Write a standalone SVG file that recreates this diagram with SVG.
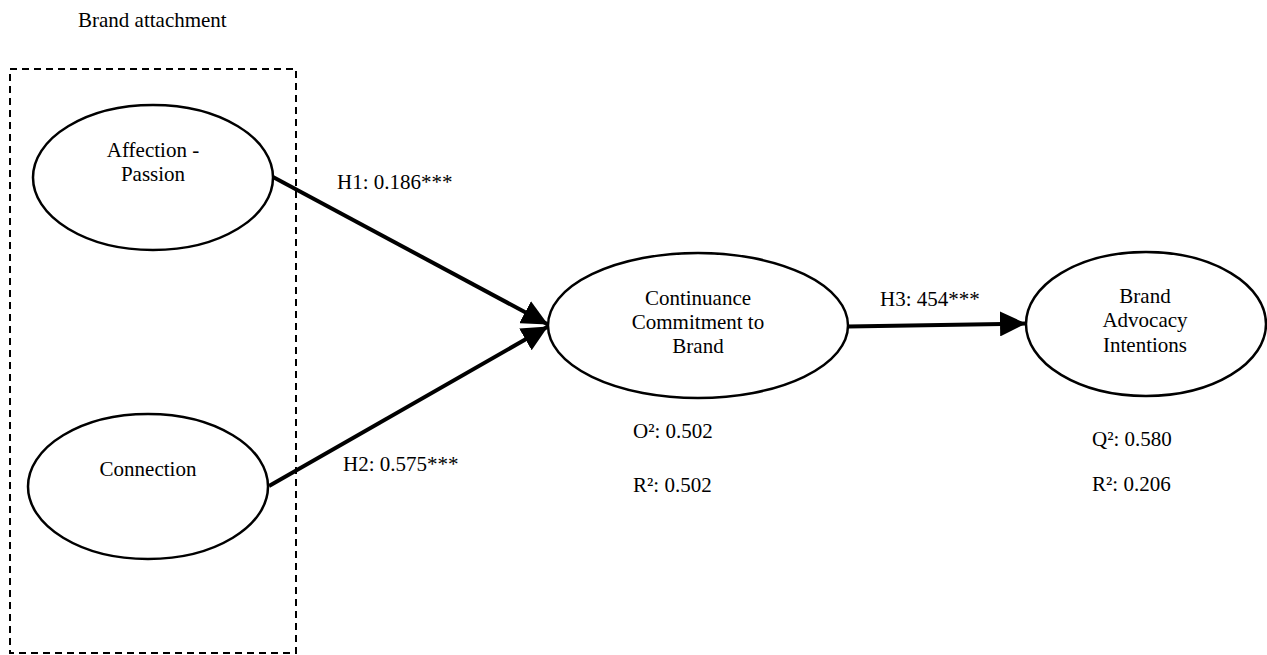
<svg xmlns="http://www.w3.org/2000/svg" width="1267" height="655" viewBox="0 0 1267 655">
<style>
text{font-family:"Liberation Serif","Times New Roman",serif;font-size:21px;fill:#000}
.c{text-anchor:middle}
.node ellipse{fill:#fff;stroke:#000;stroke-width:2.5}
.conn line{stroke:#000;stroke-width:4}
</style>
<defs>
<marker id="ah" markerUnits="userSpaceOnUse" markerWidth="26" markerHeight="25" refX="26" refY="12.5" orient="auto" viewBox="0 0 26 25">
<path d="M0,0 L26,12.5 L0,25 z" fill="#000"/>
</marker>
</defs>
<rect width="1267" height="655" fill="#fff"/>
<text x="78" y="27">Brand attachment</text>
<rect id="group-box" x="10" y="69" width="286" height="584" fill="none" stroke="#000" stroke-width="2" stroke-dasharray="7,5"/>
<g class="conn" id="connectors">
<line x1="273" y1="177" x2="548" y2="324.5" marker-end="url(#ah)"/>
<line x1="269" y1="486" x2="548" y2="326.5" marker-end="url(#ah)"/>
<line x1="848" y1="326.5" x2="1026" y2="323.5" marker-end="url(#ah)"/>
</g>
<text x="337" y="189">H1: 0.186***</text>
<text x="343" y="471">H2: 0.575***</text>
<text x="880" y="306">H3: 454***</text>
<g class="node" id="affection">
<ellipse cx="153" cy="177.5" rx="120" ry="72.5"/>
<text class="c" x="153" y="157">Affection -</text>
<text class="c" x="153" y="181">Passion</text>
</g>
<g class="node" id="connection">
<ellipse cx="148" cy="486.5" rx="120" ry="72.5"/>
<text class="c" x="148" y="476">Connection</text>
</g>
<g class="node" id="continuance">
<ellipse cx="698" cy="325.5" rx="150" ry="72.5"/>
<text class="c" x="698" y="305">Continuance</text>
<text class="c" x="698" y="329">Commitment to</text>
<text class="c" x="698" y="353">Brand</text>
</g>
<g class="node" id="advocacy">
<ellipse cx="1146" cy="324" rx="120" ry="72"/>
<text class="c" x="1145" y="303">Brand</text>
<text class="c" x="1145" y="327">Advocacy</text>
<text class="c" x="1145" y="352">Intentions</text>
</g>
<text x="633" y="438">O²: 0.502</text>
<text x="633" y="492">R²: 0.502</text>
<text x="1092" y="446">Q²: 0.580</text>
<text x="1092" y="491">R²: 0.206</text>
</svg>
